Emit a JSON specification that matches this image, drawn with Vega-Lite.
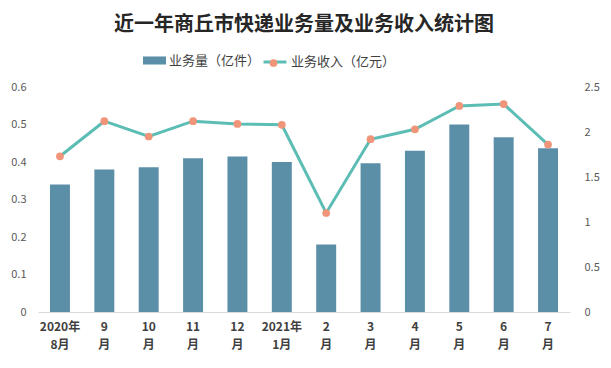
{
  "$schema": "https://vega.github.io/schema/vega-lite/v6.json",
  "width": 532,
  "height": 225,
  "autosize": {"type": "none"},
  "padding": {"left": 38, "top": 87, "right": 41, "bottom": 56},
  "background": "white",
  "title": {
    "text": "近一年商丘市快递业务量及业务收入统计图",
    "font": "Noto Sans CJK SC",
    "fontSize": 20,
    "fontWeight": "bold",
    "color": "#262626",
    "anchor": "middle",
    "offset": 14
  },
  "config": {
    "view": {"stroke": null},
    "font": "Noto Sans CJK SC",
    "legend": {
      "labelFont": "Noto Sans CJK SC",
      "labelFontSize": 13,
      "labelColor": "#404040",
      "labelOffset": 3,
      "title": null
    }
  },
  "data": {
    "values": [
      {"month": "2020年\n8月", "volume": 0.34, "revenue": 1.73},
      {"month": "9\n月", "volume": 0.38, "revenue": 2.12},
      {"month": "10\n月", "volume": 0.386, "revenue": 1.95},
      {"month": "11\n月", "volume": 0.41, "revenue": 2.12},
      {"month": "12\n月", "volume": 0.415, "revenue": 2.09},
      {"month": "2021年\n1月", "volume": 0.40, "revenue": 2.08},
      {"month": "2\n月", "volume": 0.18, "revenue": 1.10},
      {"month": "3\n月", "volume": 0.397, "revenue": 1.92},
      {"month": "4\n月", "volume": 0.43, "revenue": 2.03},
      {"month": "5\n月", "volume": 0.50, "revenue": 2.29},
      {"month": "6\n月", "volume": 0.466, "revenue": 2.31},
      {"month": "7\n月", "volume": 0.437, "revenue": 1.86}
    ]
  },
  "encoding": {
    "x": {
      "field": "month",
      "type": "nominal",
      "sort": null,
      "scale": {"paddingInner": 0.55, "paddingOuter": 0.27},
      "axis": {
        "title": null,
        "labelAngle": 0,
        "labelExpr": "split(datum.label, '\\n')",
        "labelLineHeight": 18,
        "labelFontSize": 12,
        "labelFontWeight": "bold",
        "labelColor": "#404040",
        "labelPadding": 9,
        "ticks": false,
        "domainColor": "#d9d9d9",
        "domainWidth": 1
      }
    }
  },
  "layer": [
    {
      "mark": {"type": "bar"},
      "encoding": {
        "y": {
          "field": "volume",
          "type": "quantitative",
          "scale": {"domain": [0, 0.6], "nice": false},
          "axis": {
            "title": null,
            "values": [0, 0.1, 0.2, 0.3, 0.4, 0.5, 0.6],
            "format": "~g",
            "grid": false,
            "domain": false,
            "ticks": false,
            "labelPadding": 12,
            "labelFontSize": 11,
            "labelColor": "#595959"
          }
        },
        "fill": {
          "datum": "业务量（亿件）",
          "scale": {"range": ["#5B8FA8"]},
          "legend": {
            "orient": "none",
            "legendX": 105,
            "legendY": -38,
            "symbolType": "M-1,-0.35H1V0.35H-1Z",
            "symbolSize": 529,
            "symbolStrokeWidth": 0
          }
        }
      }
    },
    {
      "mark": {
        "type": "line",
        "strokeWidth": 3,
        "point": {"filled": true, "fill": "#F0957A", "stroke": "#F0957A", "strokeWidth": 0, "size": 60, "opacity": 1}
      },
      "encoding": {
        "y": {
          "field": "revenue",
          "type": "quantitative",
          "scale": {"domain": [0, 2.5], "nice": false},
          "axis": {
            "title": null,
            "orient": "right",
            "values": [0, 0.5, 1, 1.5, 2, 2.5],
            "format": "~g",
            "grid": false,
            "domain": false,
            "ticks": false,
            "labelPadding": 14,
            "labelFontSize": 11,
            "labelColor": "#595959"
          }
        },
        "stroke": {
          "datum": "业务收入（亿元）",
          "scale": {"range": ["#5CBDB5"]},
          "legend": {
            "orient": "none",
            "legendX": 224,
            "legendY": -38,
            "symbolType": "stroke",
            "symbolSize": 529,
            "symbolStrokeWidth": 3
          }
        },
        "shape": {
          "datum": "收入点",
          "scale": {"range": ["circle"]},
          "legend": {
            "orient": "none",
            "legendX": 229,
            "legendY": -30.5,
            "symbolFillColor": "#F0957A",
            "symbolStrokeColor": "#F0957A",
            "symbolStrokeWidth": 0,
            "symbolSize": 60,
            "labelExpr": "''",
            "labelFontSize": 13
          }
        }
      }
    }
  ],
  "resolve": {"scale": {"y": "independent"}}
}
